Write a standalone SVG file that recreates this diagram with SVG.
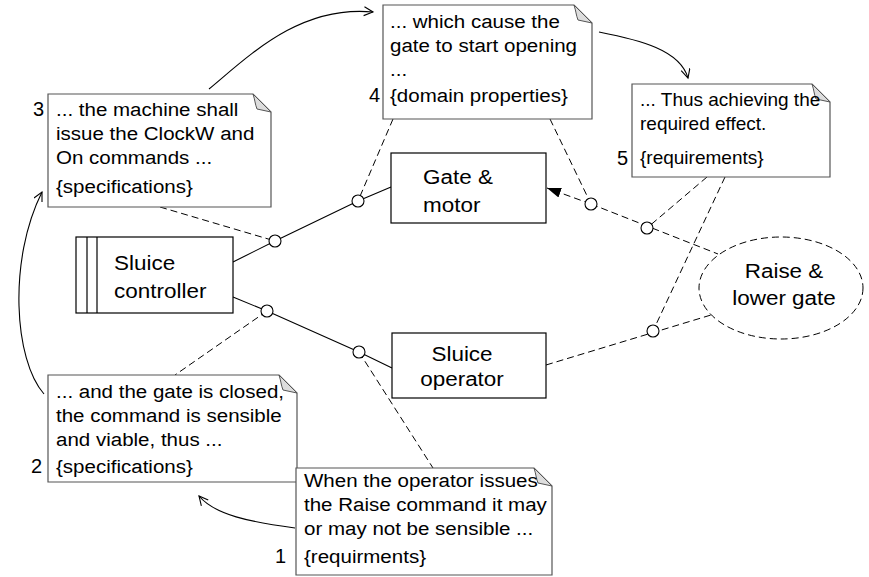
<svg xmlns="http://www.w3.org/2000/svg" width="869" height="577" viewBox="0 0 869 577">
  <defs>
    <style>
      .note { fill: #fff; stroke: #555; stroke-width: 1.2; }
      .fold { fill: #ddd; stroke: #555; stroke-width: 1; }
      .box { fill: #fff; stroke: #000; stroke-width: 1.2; }
      .nt { font-family: "Liberation Sans", Arial, sans-serif; font-size: 19px; fill: #000; }
      .num { font-family: "Liberation Sans", Arial, sans-serif; font-size: 20px; fill: #000; text-anchor: end; }
      .lbl { font-family: "Liberation Sans", Arial, sans-serif; font-size: 21px; fill: #000; }
      .solid { fill: none; stroke: #000; stroke-width: 1.1; }
      .dash { fill: none; stroke: #000; stroke-width: 1; stroke-dasharray: 7 4; }
      .flow { fill: none; stroke: #000; stroke-width: 1.1; }
      .port { fill: #fff; stroke: #000; stroke-width: 1.1; }
    </style>
    <marker id="open" markerUnits="userSpaceOnUse" markerWidth="12" markerHeight="12" refX="10" refY="5" orient="auto">
      <path d="M1,0.5 L10,5 L1,9.5" fill="none" stroke="#000" stroke-width="1.1"/>
    </marker>
    <marker id="solidhead" markerUnits="userSpaceOnUse" markerWidth="16" markerHeight="12" refX="14" refY="5" orient="auto">
      <path d="M0,0 L14,5 L0,10 Z" fill="#000"/>
    </marker>
  </defs>

  <!-- connectors: solid links, dashed references, flow arrows, ports -->
  <g id="connectors">
    <!-- controller to gate & motor -->
    <polyline class="solid" points="233,262 275,241 358,201 391,187"/>
    <!-- controller to operator -->
    <polyline class="solid" points="233,297 267,311 359,352 392,368"/>

    <!-- dashed references -->
    <line class="dash" x1="160" y1="207" x2="275" y2="241"/>
    <line class="dash" x1="267" y1="311" x2="175" y2="375"/>
    <line class="dash" x1="393" y1="119" x2="358" y2="201"/>
    <line class="dash" x1="550" y1="119" x2="591" y2="204"/>
    <line class="dash" x1="591" y1="204" x2="547" y2="188" marker-end="url(#solidhead)"/>
    <line class="dash" x1="591" y1="204" x2="718" y2="254"/>
    <line class="dash" x1="707" y1="177" x2="647" y2="228"/>
    <line class="dash" x1="725" y1="177" x2="653" y2="331"/>
    <line class="dash" x1="546" y1="365" x2="711" y2="315"/>
    <line class="dash" x1="359" y1="352" x2="433" y2="468"/>

    <!-- reading-order arrows between notes -->
    <path class="flow" d="M295,528 C250,522 215,515 199,496" marker-end="url(#open)"/>
    <path class="flow" d="M44,394 C14,360 8,260 42,192" marker-end="url(#open)"/>
    <path class="flow" d="M209,89 C250,55 300,5 373,12" marker-end="url(#open)"/>
    <path class="flow" d="M599,32 C640,40 680,50 688,78" marker-end="url(#open)"/>

    <!-- ports -->
    <circle class="port" cx="275" cy="241" r="6"/>
    <circle class="port" cx="358" cy="201" r="6"/>
    <circle class="port" cx="267" cy="311" r="6"/>
    <circle class="port" cx="359" cy="352" r="6"/>
    <circle class="port" cx="591" cy="204" r="6"/>
    <circle class="port" cx="647" cy="228" r="6"/>
    <circle class="port" cx="653" cy="331" r="6"/>
  </g>

  <!-- machine -->
  <g id="sluice-controller">
    <rect class="box" x="76" y="237" width="157" height="76"/>
    <line class="box" x1="87" y1="237" x2="87" y2="313"/>
    <line class="box" x1="97" y1="237" x2="97" y2="313"/>
    <g transform="translate(114 0) scale(1.07 1)">
      <text class="lbl" x="0" y="270">Sluice</text>
      <text class="lbl" x="0" y="298">controller</text>
    </g>
  </g>

  <g id="gate-motor">
    <rect class="box" x="391" y="153" width="155" height="70"/>
    <g transform="translate(423 0) scale(1.07 1)">
      <text class="lbl" x="0" y="184">Gate &amp;</text>
      <text class="lbl" x="0" y="212">motor</text>
    </g>
  </g>

  <g id="sluice-operator">
    <rect class="box" x="392" y="333" width="154" height="65"/>
    <g transform="translate(462 0) scale(1.07 1)">
      <text class="lbl" x="0" y="361" text-anchor="middle">Sluice</text>
      <text class="lbl" x="0" y="386" text-anchor="middle">operator</text>
    </g>
  </g>

  <g id="raise-lower-gate">
    <ellipse cx="781" cy="288" rx="82" ry="51" fill="#fff" stroke="#000" stroke-width="1" stroke-dasharray="7 4"/>
    <g transform="translate(784 0) scale(1.07 1)">
      <text class="lbl" x="0" y="278" text-anchor="middle">Raise &amp;</text>
      <text class="lbl" x="0" y="305" text-anchor="middle">lower gate</text>
    </g>
  </g>

  <!-- notes -->
  <g id="note-3">
    <path class="note" d="M48,94 H253 L271,112 V207 H48 Z"/>
    <path class="fold" d="M253,94 C255,100 255,104 257,109 L271,112 Z"/>
    <text class="num" x="44" y="116">3</text>
    <g transform="translate(56 0) scale(1.08 1)">
      <text class="nt" x="0" y="116">... the machine shall</text>
      <text class="nt" x="0" y="140">issue the ClockW and</text>
      <text class="nt" x="0" y="164">On commands ...</text>
      <text class="nt" x="0" y="193">{specifications}</text>
    </g>
  </g>

  <g id="note-4">
    <path class="note" d="M383,5 H574 L592,23 V119 H383 Z"/>
    <path class="fold" d="M574,5 C576,11 576,15 578,20 L592,23 Z"/>
    <text class="num" x="380" y="102">4</text>
    <g transform="translate(390 0) scale(1.08 1)">
      <text class="nt" x="0" y="28">... which cause the</text>
      <text class="nt" x="0" y="52">gate to start opening</text>
      <text class="nt" x="0" y="76">...</text>
      <text class="nt" x="0" y="102">{domain properties}</text>
    </g>
  </g>

  <g id="note-5">
    <path class="note" d="M632,84 H812 L830,102 V177 H632 Z"/>
    <path class="fold" d="M812,84 C814,90 814,94 816,99 L830,102 Z"/>
    <text class="num" x="628" y="165">5</text>
    <g transform="translate(640 0)">
      <text class="nt" x="0" y="106">... Thus achieving the</text>
      <text class="nt" x="0" y="130">required effect.</text>
      <text class="nt" x="0" y="164">{requirements}</text>
    </g>
  </g>

  <g id="note-2">
    <path class="note" d="M48,375 H279 L297,393 V482 H48 Z"/>
    <path class="fold" d="M279,375 C281,381 281,385 283,390 L297,393 Z"/>
    <text class="num" x="42" y="473">2</text>
    <g transform="translate(56 0) scale(1.08 1)">
      <text class="nt" x="0" y="398">... and the gate is closed,</text>
      <text class="nt" x="0" y="422">the command is sensible</text>
      <text class="nt" x="0" y="446">and viable, thus ...</text>
      <text class="nt" x="0" y="473">{specifications}</text>
    </g>
  </g>

  <g id="note-1">
    <path class="note" d="M296,468 H534 L552,486 V575 H296 Z"/>
    <path class="fold" d="M534,468 C536,474 536,478 538,483 L552,486 Z"/>
    <text class="num" x="286" y="563">1</text>
    <g transform="translate(304 0) scale(1.08 1)">
      <text class="nt" x="0" y="487">When the operator issues</text>
      <text class="nt" x="0" y="511">the Raise command it may</text>
      <text class="nt" x="0" y="535">or may not be sensible ...</text>
      <text class="nt" x="0" y="563">{requirments}</text>
    </g>
  </g>
</svg>
